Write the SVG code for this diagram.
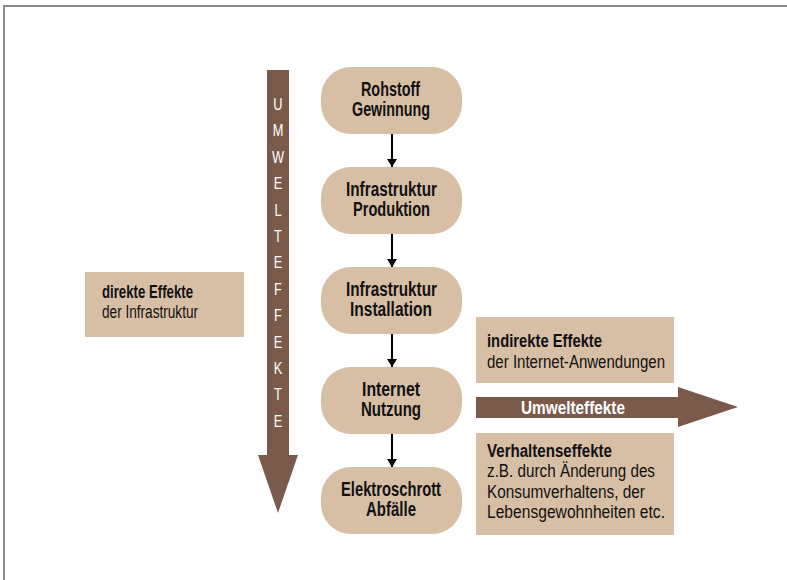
<svg xmlns="http://www.w3.org/2000/svg" width="787" height="580" viewBox="0 0 787 580">
  <style>
    .frame { fill: none; stroke: #8c8c8c; stroke-width: 2; }
    .node { fill: #d7bfa6; }
    .panel { fill: #d7bfa6; }
    .band { fill: #7a5a4b; }
    .t { font-family: "Liberation Sans", Arial, sans-serif; fill: #111; }
    .nt { font-size: 19.5px; font-weight: bold; }
    .pb { font-size: 18px; font-weight: bold; }
    .pr { font-size: 18px; }
    .vl { font-size: 16px; fill: #ffffff; text-anchor: middle; }
    .hl { font-size: 19px; font-weight: bold; fill: #ffffff; }
    .link { stroke: #000; stroke-width: 2; fill: none; }
  </style>
  <defs>
    <marker id="head" markerWidth="8" markerHeight="10" refX="8" refY="5" orient="auto" markerUnits="userSpaceOnUse">
      <path d="M0,0 L8,5 L0,10 Z" fill="#000"/>
    </marker>
  </defs>

  <rect width="787" height="580" fill="#ffffff"/>
  <!-- outer frame, open towards right and bottom -->
  <path class="frame" d="M4,580 L4,6 L787,6"/>

  <!-- vertical band: Umwelteffekte -->
  <g id="band-vertical">
    <path class="band" d="M267,70 L289,70 L289,455 L298,455 L278,513 L258,455 L267,455 Z"/>
    <g class="t vl" transform="translate(278 0) scale(0.8 1) translate(-278 0)">
      <text x="278" y="110">U</text>
      <text x="278" y="136.4">M</text>
      <text x="278" y="162.8">W</text>
      <text x="278" y="189.2">E</text>
      <text x="278" y="215.6">L</text>
      <text x="278" y="242">T</text>
      <text x="278" y="268.4">E</text>
      <text x="278" y="294.8">F</text>
      <text x="278" y="321.2">F</text>
      <text x="278" y="347.6">E</text>
      <text x="278" y="374">K</text>
      <text x="278" y="400.4">T</text>
      <text x="278" y="426.8">E</text>
    </g>
  </g>

  <!-- horizontal band: Umwelteffekte -->
  <g id="band-horizontal">
    <path class="band" d="M476,397 L678,397 L678,387 L738,407 L678,427 L678,418 L476,418 Z"/>
    <text class="t hl" x="521" y="414" textLength="104" lengthAdjust="spacingAndGlyphs">Umwelteffekte</text>
  </g>

  <!-- connectors -->
  <g id="connectors">
    <line class="link" x1="392" y1="134" x2="392" y2="167" marker-end="url(#head)"/>
    <line class="link" x1="392" y1="234" x2="392" y2="267" marker-end="url(#head)"/>
    <line class="link" x1="392" y1="334" x2="392" y2="367" marker-end="url(#head)"/>
    <line class="link" x1="392" y1="434" x2="392" y2="467" marker-end="url(#head)"/>
  </g>

  <!-- process nodes -->
  <g id="node-rohstoff">
    <rect class="node" x="321" y="67" width="141" height="67" rx="30"/>
    <text class="t nt" x="361" y="96" textLength="59" lengthAdjust="spacingAndGlyphs">Rohstoff</text>
    <text class="t nt" x="352" y="116" textLength="78" lengthAdjust="spacingAndGlyphs">Gewinnung</text>
  </g>
  <g id="node-produktion">
    <rect class="node" x="321" y="167" width="141" height="67" rx="30"/>
    <text class="t nt" x="346" y="196" textLength="91" lengthAdjust="spacingAndGlyphs">Infrastruktur</text>
    <text class="t nt" x="353" y="216" textLength="77" lengthAdjust="spacingAndGlyphs">Produktion</text>
  </g>
  <g id="node-installation">
    <rect class="node" x="321" y="267" width="141" height="67" rx="30"/>
    <text class="t nt" x="346" y="296" textLength="91" lengthAdjust="spacingAndGlyphs">Infrastruktur</text>
    <text class="t nt" x="350" y="316" textLength="82" lengthAdjust="spacingAndGlyphs">Installation</text>
  </g>
  <g id="node-nutzung">
    <rect class="node" x="321" y="367" width="141" height="67" rx="30"/>
    <text class="t nt" x="362" y="396" textLength="58" lengthAdjust="spacingAndGlyphs">Internet</text>
    <text class="t nt" x="361" y="416" textLength="60" lengthAdjust="spacingAndGlyphs">Nutzung</text>
  </g>
  <g id="node-abfall">
    <rect class="node" x="321" y="467" width="141" height="67" rx="30"/>
    <text class="t nt" x="341" y="496" textLength="100" lengthAdjust="spacingAndGlyphs">Elektroschrott</text>
    <text class="t nt" x="366" y="516" textLength="50" lengthAdjust="spacingAndGlyphs">Abfälle</text>
  </g>

  <!-- side panels -->
  <g id="panel-direkt">
    <rect class="panel" x="85" y="272" width="159" height="65"/>
    <text class="t pb" x="102" y="298" textLength="91" lengthAdjust="spacingAndGlyphs">direkte Effekte</text>
    <text class="t pr" x="102" y="318" textLength="96" lengthAdjust="spacingAndGlyphs">der Infrastruktur</text>
  </g>
  <g id="panel-indirekt">
    <rect class="panel" x="476" y="317" width="198" height="66"/>
    <text class="t pb" x="487" y="347" textLength="115" lengthAdjust="spacingAndGlyphs">indirekte Effekte</text>
    <text class="t pr" x="487" y="368" textLength="178" lengthAdjust="spacingAndGlyphs">der Internet-Anwendungen</text>
  </g>
  <g id="panel-verhalten">
    <rect class="panel" x="476" y="433" width="198" height="102"/>
    <text class="t pb" x="487" y="457" textLength="125" lengthAdjust="spacingAndGlyphs">Verhaltenseffekte</text>
    <text class="t pr" x="487" y="477" textLength="168" lengthAdjust="spacingAndGlyphs">z.B. durch Änderung des</text>
    <text class="t pr" x="487" y="497.5" textLength="158" lengthAdjust="spacingAndGlyphs">Konsumverhaltens, der</text>
    <text class="t pr" x="487" y="518" textLength="178" lengthAdjust="spacingAndGlyphs">Lebensgewohnheiten etc.</text>
  </g>
</svg>
